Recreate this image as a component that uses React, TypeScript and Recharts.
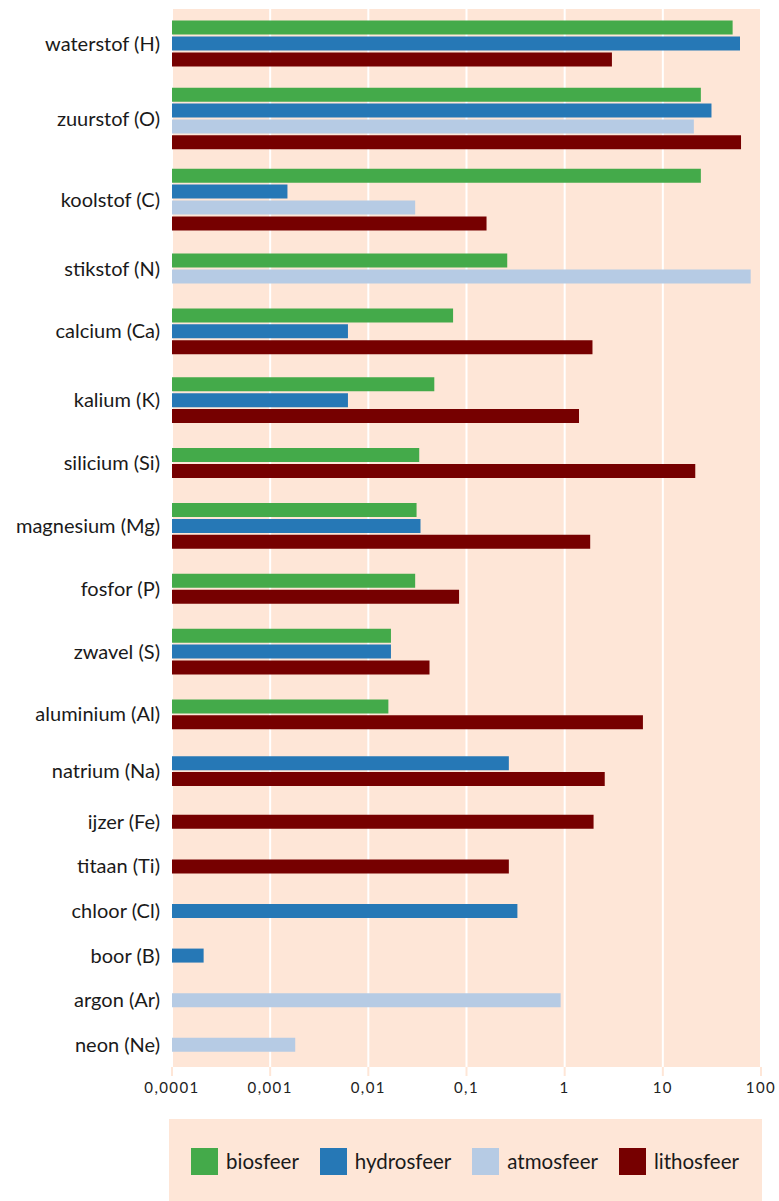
import { BarChart, Bar, Cell, XAxis, YAxis, CartesianGrid } from 'recharts';

const elements = [
  'waterstof (H)', 'zuurstof (O)', 'koolstof (C)', 'stikstof (N)', 'calcium (Ca)', 'kalium (K)',
  'silicium (Si)', 'magnesium (Mg)', 'fosfor (P)', 'zwavel (S)', 'aluminium (Al)', 'natrium (Na)',
  'ijzer (Fe)', 'titaan (Ti)', 'chloor (Cl)', 'boor (B)', 'argon (Ar)', 'neon (Ne)',
];

// atoom-% per sfeer, null = niet getoond
const biosfeer = [51.4, 24.4, 24.4, 0.26, 0.073, 0.047, 0.033, 0.031, 0.030, 0.017, 0.016, null, null, null, null, null, null, null];
const hydrosfeer = [61.1, 31.3, 0.0015, null, 0.0062, 0.0062, null, 0.034, null, 0.017, null, 0.27, null, null, 0.33, 0.00021, null, null];
const atmosfeer = [null, 20.7, 0.03, 78.5, null, null, null, null, null, null, null, null, null, null, null, null, 0.91, 0.0018];
const lithosfeer = [3.03, 62.6, 0.16, null, 1.92, 1.40, 21.4, 1.82, 0.084, 0.042, 6.27, 2.56, 1.97, 0.27, null, null, null, null];

const xTicks = [0.0001, 0.001, 0.01, 0.1, 1, 10, 100];

const PEACH = '#fee6d7';
const FONT = 'Lato, "Noto Sans", sans-serif';

const spheres = [
  { label: 'biosfeer', color: '#44aa4a', values: biosfeer },
  { label: 'hydrosfeer', color: '#2678b6', values: hydrosfeer },
  { label: 'atmosfeer', color: '#b6cbe4', values: atmosfeer },
  { label: 'lithosfeer', color: '#760000', values: lithosfeer },
];

// each element gets a band that grows with its number of bars
const GROUP_PAD = 8 / 3;
const BAND_UNIT = 0.765;

type Row = { pos: number; value: number; color: string; element: string; sphere: string };

const rows: Row[] = [];
const groupCenters: number[] = [];
let cursor = 0;
elements.forEach((name, i) => {
  const present = spheres.filter((s) => s.values[i] != null);
  const band = (present.length + GROUP_PAD) * BAND_UNIT;
  const center = cursor + band / 2;
  groupCenters.push(center);
  present.forEach((s, j) => {
    rows.push({
      pos: center + j - (present.length - 1) / 2,
      value: s.values[i] as number,
      color: s.color,
      element: name,
      sphere: s.label,
    });
  });
  cursor += band;
});
const yMax = cursor;

const labelFor = (v: number) => {
  const idx = groupCenters.findIndex((c) => Math.abs(c - v) < 1e-6);
  return idx >= 0 ? elements[idx] : '';
};

export default function App() {
  return (
    <div style={{ position: 'absolute', top: 0, left: 0, width: 779, fontFamily: FONT }}>
      <BarChart
        width={779}
        height={1100}
        data={rows}
        layout="vertical"
        margin={{ top: 9, right: 18, bottom: 0, left: 0 }}
      >
        <CartesianGrid horizontal={false} stroke="#ffffff" strokeWidth={2} fill={PEACH} fillOpacity={1} />
        <XAxis
          type="number"
          scale="log"
          domain={[0.0001, 100]}
          allowDataOverflow
          ticks={xTicks}
          interval={0}
          axisLine={false}
          tickLine={{ stroke: PEACH, strokeWidth: 2 }}
          tickSize={9}
          tickMargin={6}
          height={33}
          tickFormatter={(v) => String(v).replace('.', ',')}
          tick={{ fontFamily: FONT, fontSize: 15, fill: '#222', letterSpacing: 1.4 }}
        />
        <YAxis
          type="number"
          dataKey="pos"
          domain={[0, yMax]}
          allowDataOverflow
          ticks={groupCenters}
          interval={0}
          axisLine={false}
          tickLine={false}
          tickSize={0}
          tickMargin={12}
          width={172}
          tickFormatter={labelFor}
          tick={{ fontFamily: FONT, fontSize: 20, fill: '#1a1a1a' }}
        />
        <Bar dataKey="value" barSize={14} isAnimationActive={false}>
          {rows.map((r, i) => (
            <Cell key={i} fill={r.color} />
          ))}
        </Bar>
      </BarChart>
      <div
        style={{
          marginTop: 19,
          marginLeft: 169,
          width: 593,
          height: 84,
          background: PEACH,
          boxSizing: 'border-box',
          padding: '0 23px 0 22px',
          display: 'flex',
          alignItems: 'center',
          justifyContent: 'space-between',
        }}
      >
        {spheres.map((s) => (
          <div key={s.label} style={{ display: 'flex', alignItems: 'center' }}>
            <span style={{ display: 'inline-block', width: 27, height: 27, background: s.color, marginRight: 8 }} />
            <span style={{ fontSize: 20.5, color: '#1a1a1a' }}>{s.label}</span>
          </div>
        ))}
      </div>
    </div>
  );
}
